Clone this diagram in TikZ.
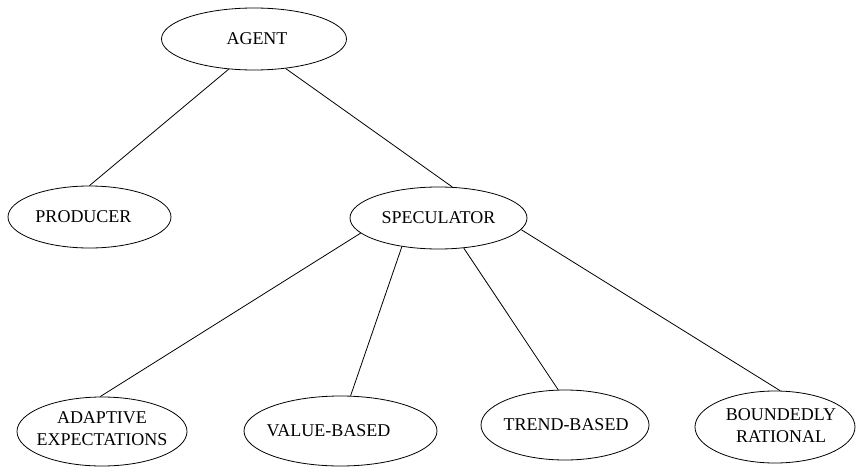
\documentclass[tikz,border=0pt]{standalone}
\usepackage{fontspec}
\setmainfont{Liberation Serif}
\usetikzlibrary{shapes.geometric}
\tikzset{
  ell/.style={draw, ellipse, inner sep=0pt, line width=0.8pt},
  lbl/.style={font=\fontsize{18}{22}\selectfont, align=center},
  conn/.style={draw, line width=0.8pt}
}
\begin{document}
\begin{tikzpicture}[x=1pt, y=-1pt]
\useasboundingbox (0,0) rectangle (856,468);
\node[ell, minimum width=185pt, minimum height=62pt] (agent) at (254,39) {};
\node[lbl] (agentt) at ([xshift=3pt]agent.center) {AGENT};
\node[ell, minimum width=163pt, minimum height=62pt] (producer) at (89.5,217) {};
\node[lbl] (producert) at ([xshift=-6pt]producer.center) {PRODUCER};
\node[ell, minimum width=177pt, minimum height=62pt] (spec) at (438.5,218) {};
\node[lbl] (spect) at (spec.center) {SPECULATOR};
\node[ell, minimum width=170pt, minimum height=69pt] (adaptive) at (102,431.5) {};
\node[lbl] (adaptivet) at ([yshift=3pt]adaptive.center) {ADAPTIVE\\EXPECTATIONS};
\node[ell, minimum width=193pt, minimum height=70pt] (value) at (340.5,431) {};
\node[lbl] (valuet) at ([xshift=-12pt]value.center) {VALUE-BASED};
\node[ell, minimum width=168pt, minimum height=70pt] (trend) at (565,425) {};
\node[lbl] (trendt) at ([xshift=1pt]trend.center) {TREND-BASED};
\node[ell, minimum width=160pt, minimum height=72pt] (bounded) at (775,427) {};
\node[lbl] (boundedt) at ([xshift=6pt,yshift=1pt]bounded.center) {BOUNDEDLY\\RATIONAL};
\draw[conn] (agent.230) -- (producer.90);
\draw[conn] (agent.317.6) -- (spec.66.5);
\draw[conn] (spec.191.5) -- (adaptive.93);
\draw[conn] (spec.218) -- (value.74.4);
\draw[conn] (spec.310.7) -- (trend.101);
\draw[conn] (spec.352.6) -- (bounded.82);
\end{tikzpicture}
\end{document}
